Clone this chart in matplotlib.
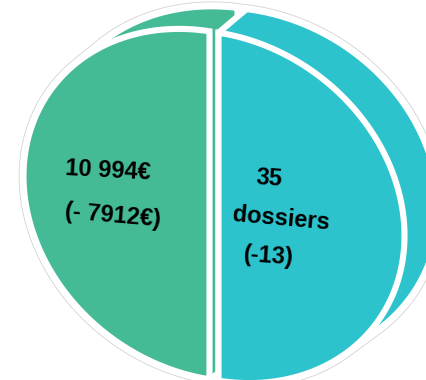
import numpy as np
import matplotlib
matplotlib.use("Agg")
import matplotlib.pyplot as plt
from matplotlib.patches import Polygon

# Two equal halves of the pie
categories = ["Montant", "Dossiers"]
shares = [50, 50]
colors = ["#45BA96", "#2CC3CD"]
label_amount = ["10 994€", "(- 7912€)"]
label_files = ["35", "dossiers", "(-13)"]

W, H, DPI = 426, 380, 100
fig = plt.figure(figsize=(W / DPI, H / DPI), dpi=DPI)
ax = fig.add_axes([0, 0, 1, 1])
ax.set_xlim(0, W)
ax.set_ylim(H, 0)
ax.axis("off")

# Projected faces of the extruded disc (pixel space):
# centre x, centre y, half-width, half-height, vertical tilt
FRONT = (214.0, 206.0, 186.0, 174.0, 29.0)
BACK = (242.0, 184.5, 192.0, 176.0, 24.0)
EXPLODE_PX = 4.5           # slice separation


def slice_face(t0, t1, face):
    cx, cy, a, b, s = face
    mid = np.radians((t0 + t1) / 2)
    th = np.radians(np.linspace(t0, t1, 240))
    u = np.concatenate([np.cos(th), [0.0]])
    v = np.concatenate([np.sin(th), [0.0]])
    ox = EXPLODE_PX * np.cos(mid)
    oy = -EXPLODE_PX * np.sin(mid) + s * (EXPLODE_PX / a) * np.cos(mid)
    x = cx + a * u + ox
    y = cy - b * v + s * u + oy
    return np.column_stack([x, y])


def convex_hull(pts):
    pts = sorted(map(tuple, pts))

    def cross(o, a, b):
        return (a[0] - o[0]) * (b[1] - o[1]) - (a[1] - o[1]) * (b[0] - o[0])

    lower, upper = [], []
    for p in pts:
        while len(lower) >= 2 and cross(lower[-2], lower[-1], p) <= 0:
            lower.pop()
        lower.append(p)
    for p in reversed(pts):
        while len(upper) >= 2 and cross(upper[-2], upper[-1], p) <= 0:
            upper.pop()
        upper.append(p)
    return np.array(lower[:-1] + upper[:-1])


# slice angles from the shares, starting at the top, counter-clockwise
total = float(sum(shares))
bounds = 90 + 360 * np.concatenate([[0], np.cumsum(shares)]) / total

faces = []
for i in range(len(shares)):
    front = slice_face(bounds[i], bounds[i + 1], FRONT)
    back = slice_face(bounds[i], bounds[i + 1], BACK)
    faces.append((front, back))

# soft outline around the whole solid
all_pts = np.vstack([np.vstack(f) for f in faces])
outer = convex_hull(all_pts)
ax.add_patch(Polygon(outer, closed=True, facecolor="white",
                     edgecolor="#cfcfcf", lw=6.9, zorder=1))
ax.add_patch(Polygon(outer, closed=True, facecolor="white",
                     edgecolor="white", lw=5.8, zorder=1.1))

STROKE = 4.4
z = 2
for (front, back), col in zip(faces, colors):
    body = convex_hull(np.vstack([front, back]))
    ax.add_patch(Polygon(body, closed=True, facecolor=col,
                         edgecolor="white", lw=STROKE, joinstyle="miter",
                         zorder=z))
    ax.add_patch(Polygon(front, closed=True, facecolor=col,
                         edgecolor="white", lw=STROKE, joinstyle="miter",
                         zorder=z + 0.5))
    z += 1

font = dict(family=["Liberation Sans", "DejaVu Sans"], fontsize=17,
            fontweight="bold", color="black", zorder=10,
            rotation_mode="anchor", va="center")

ax.text(65, 169, label_amount[0], ha="left", rotation=-3, **font)
ax.text(65, 212, label_amount[1], ha="left", rotation=-5, **font)
ax.text(269, 178, label_files[0], ha="center", rotation=-4, **font)
ax.text(281, 219, label_files[1], ha="center", rotation=-5, **font)
ax.text(269, 256, label_files[2], ha="center", rotation=-4, **font)

fig.savefig("out.png", dpi=DPI)
